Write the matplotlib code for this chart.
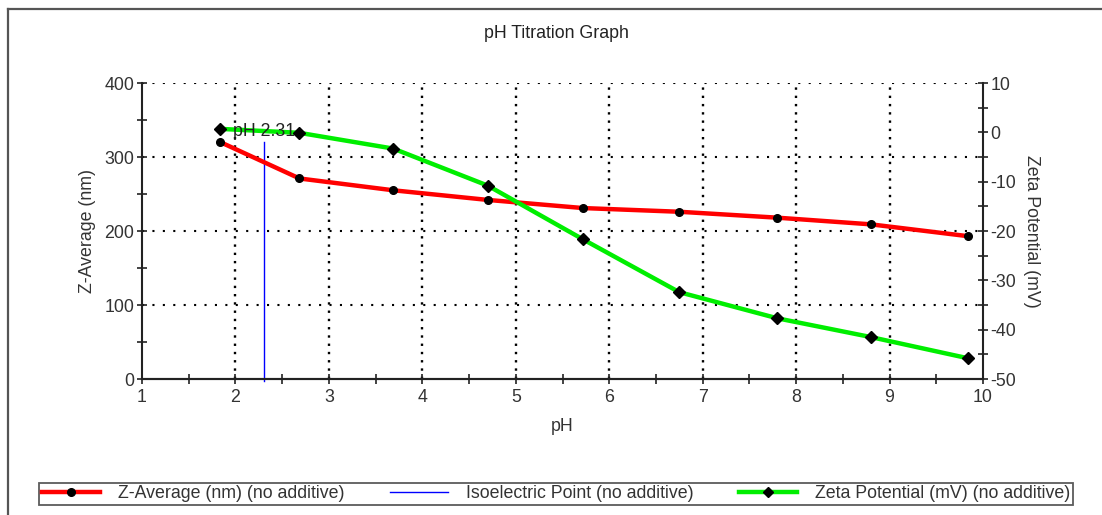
import matplotlib.pyplot as plt
from matplotlib.lines import Line2D
import numpy as np

plt.rcParams['font.family'] = ['Liberation Sans', 'DejaVu Sans']
plt.rcParams['axes.unicode_minus'] = False

# data
ph = [1.84, 2.685, 3.69, 4.70, 5.72, 6.75, 7.80, 8.80, 9.84]
z_avg = [320, 271, 255, 242, 231, 226, 218, 209, 193]
zeta = [0.7, -0.1, -3.3, -10.8, -21.7, -32.4, -37.7, -41.5, -45.8]
iep = 2.31
iep_top = 320
iep_label = "pH 2.31"

fig = plt.figure(figsize=(11.02, 5.15), dpi=100)
ax = fig.add_axes([142/1102, 1-379/515, (983-142)/1102, (379-83)/515])
ax2 = ax.twinx()

txtc = '#333333'
fs = 12.8

# grid
dotted_h = (0, (1, 4))
dotted_v = (0, (1, 2.5))
for yv in [100, 200, 300, 400]:
    ax.axhline(yv, color='black', lw=1.5, ls=dotted_h, zorder=1)
for xv in range(2, 10):
    ax.axvline(xv, color='black', lw=1.7, ls=dotted_v, zorder=1)

ax.plot([iep, iep], [-3, iep_top], color='#0000ff', lw=1, zorder=2, clip_on=False)
ax.plot(ph, z_avg, color='#ff0000', lw=3.2, marker='o', ms=5.5,
        mfc='black', mec='black', zorder=3)
ax2.plot(ph, zeta, color='#00ee00', lw=3.2, marker='D', ms=6,
         mfc='black', mec='black', zorder=3)
# label sits on top of the green line
ax2.text(1.97, 334, iep_label, transform=ax.transData, fontsize=fs,
         va='center', ha='left', color='#222222', zorder=5)

ax.set_xlim(1, 10)
ax.set_ylim(0, 400)
ax2.set_ylim(-50, 10)
ax.set_xticks(range(1, 11))
ax.set_xticks(np.arange(1.5, 10, 1), minor=True)
ax.set_yticks(range(0, 401, 100))
ax.set_yticks(range(50, 400, 100), minor=True)
ax2.set_yticks(range(-50, 11, 10))
ax2.set_yticks(range(-45, 10, 10), minor=True)

for a in (ax, ax2):
    a.spines['top'].set_visible(False)
    for s in a.spines.values():
        s.set_linewidth(1.5)
        s.set_color('#222222')
    a.tick_params(which='both', direction='inout', length=7, width=1.2,
                  colors='#222222', labelsize=fs, labelcolor=txtc)
ax2.spines['left'].set_visible(False)
ax.spines['right'].set_visible(False)
ax.tick_params(axis='y', pad=2)
ax.tick_params(axis='x', pad=4)
ax2.tick_params(axis='y', pad=2)

ax.set_xlabel('pH', fontsize=fs, color=txtc, labelpad=8)
ax.set_ylabel('Z-Average (nm)', fontsize=fs, color=txtc, labelpad=6)
ax2.set_ylabel('Zeta Potential (mV)', fontsize=fs, color=txtc, rotation=270,
               labelpad=17)

fig.text(0.505, 1-33/515, 'pH Titration Graph', fontsize=fs, ha='center',
         va='center', color='#222222')

# outer frame (left and top only)
fig.add_artist(Line2D([8/1102, 8/1102], [0, 1-9/515], color='#555555', lw=1.6))
fig.add_artist(Line2D([8/1102, 1], [1-9/515, 1-9/515], color='#555555', lw=1.6))

handles = [
    Line2D([], [], color='#ff0000', lw=3.2, marker='o', ms=5.5, mfc='black', mec='black'),
    Line2D([], [], color='#0000ff', lw=1),
    Line2D([], [], color='#00ee00', lw=3.2, marker='D', ms=5, mfc='black', mec='black'),
]
labels = ['Z-Average (nm) (no additive)', 'Isoelectric Point (no additive)',
          'Zeta Potential (mV) (no additive)']
leg = fig.legend(handles, labels, loc='lower left',
                 bbox_to_anchor=(39/1102, 1-505/515, (1073-39)/1102, 24/515),
                 mode='expand', ncol=3, borderaxespad=0, fancybox=False,
                 edgecolor='#333333', fontsize=fs, handlelength=3.3,
                 handletextpad=1.0, borderpad=0.15, labelcolor=txtc)
leg.get_frame().set_linewidth(1.3)

fig.savefig('out.png', dpi=100)
